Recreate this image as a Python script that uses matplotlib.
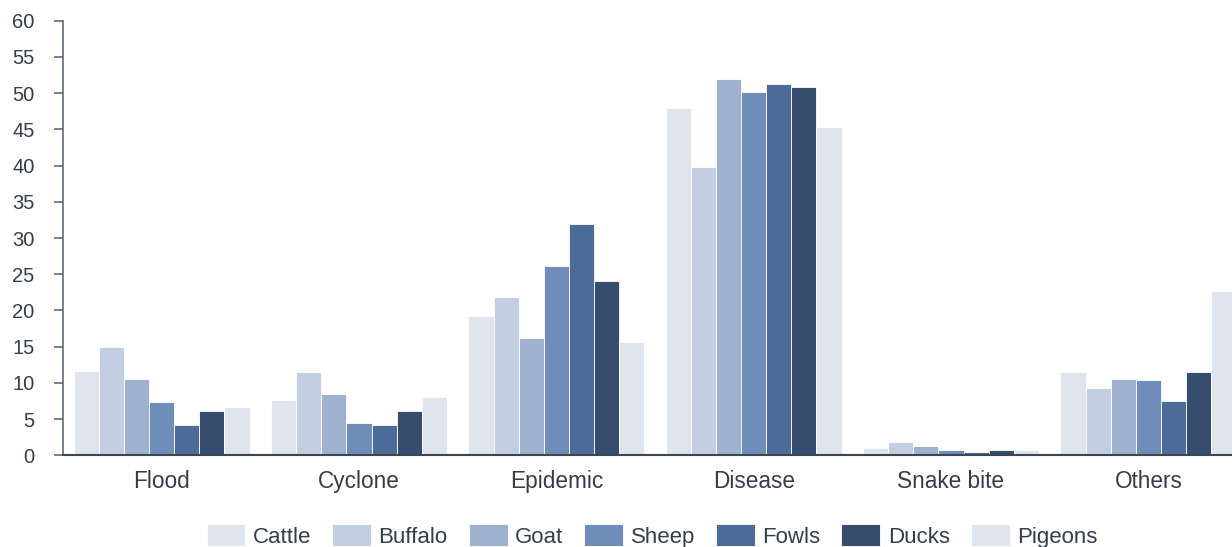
import numpy as np
import matplotlib
matplotlib.use("Agg")
import matplotlib.pyplot as plt

plt.rcParams['font.family'] = ['Liberation Sans', 'DejaVu Sans']

categories = ["Flood", "Cyclone", "Epidemic", "Disease", "Snake bite", "Others"]
series = ["Cattle", "Buffalo", "Goat", "Sheep", "Fowls", "Ducks", "Pigeons"]

cattle = [11.7, 7.7, 19.2, 48.0, 1.0, 11.5]
buffalo = [14.9, 11.5, 21.9, 39.8, 1.8, 9.3]
goat = [10.6, 8.5, 16.2, 52.0, 1.3, 10.6]
sheep = [7.4, 4.5, 26.1, 50.1, 0.7, 10.4]
fowls = [4.2, 4.2, 32.0, 51.2, 0.5, 7.45]
ducks = [6.1, 6.1, 24.0, 50.9, 0.7, 11.5]
pigeons = [6.7, 8.0, 15.7, 45.3, 0.7, 22.7]

values = [cattle, buffalo, goat, sheep, fowls, ducks, pigeons]
colors = ["#dfe5ef", "#c3cee0", "#9eb1ce", "#6e8db8", "#4b6b98", "#374d6e", "#dfe5ef"]

fig = plt.figure(figsize=(12.32, 5.47), dpi=100)
W, H = 1232, 547
# axes spans past the right edge of the figure, like the original
ax = fig.add_axes([63 / W, (H - 455.3) / H, 1184 / W, (455.3 - 20.7) / H])

x = np.arange(len(categories))
bw = 0.8913 / len(series)
for i, (name, vals) in enumerate(zip(series, values)):
    off = (i - (len(series) - 1) / 2) * bw
    ax.bar(x + off, vals, width=bw, color=colors[i], edgecolor="white",
           linewidth=0.6, label=name, clip_on=False)

ax.set_xlim(-0.5, len(categories) - 0.5)
ax.set_ylim(0, 60)
ax.set_yticks(np.arange(0, 61, 5))
ax.set_xticks(x)
ax.set_xticklabels(categories)

for s in ["top", "right"]:
    ax.spines[s].set_visible(False)
ax.spines["left"].set_color("#5f6b7a")
ax.spines["left"].set_linewidth(1.2)
ax.spines["bottom"].set_color("#3c4652")
ax.spines["bottom"].set_linewidth(1.5)

ax.tick_params(axis="y", direction="out", length=6.5, width=1.2, color="#5f6b7a",
               pad=14, labelsize=14.5, labelcolor="#343d48")
ax.tick_params(axis="x", length=0, pad=10.5, labelsize=16.3, labelcolor="#343d48")

handles, labels = ax.get_legend_handles_labels()
fig.legend(handles, labels, loc="center", ncol=7,
           bbox_to_anchor=(652 / W, 1 - 536 / H), frameon=False,
           fontsize=16, handlelength=1.75, handleheight=1.08,
           handletextpad=0.33, columnspacing=0.95, labelcolor="#343d48")

fig.savefig("out.png", dpi=100)
